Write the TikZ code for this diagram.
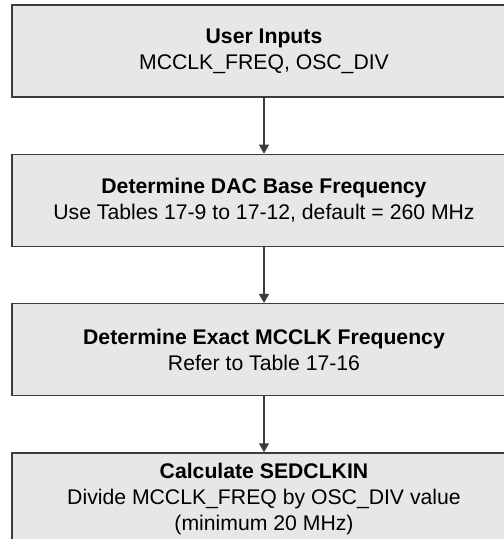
\documentclass[tikz,border=0pt]{standalone}
\usepackage{fontspec}
\setmainfont{Liberation Sans}
\usepackage{xcolor}
\usetikzlibrary{positioning,arrows.meta}
\definecolor{boxgray}{HTML}{E6E7E8}
\definecolor{edgegray}{HTML}{3C3C3C}

\begin{document}
\begin{tikzpicture}[x=1pt,y=1pt,
    stepbox/.style={draw=edgegray, line width=1.3pt, fill=boxgray,
      minimum width=504pt, minimum height=92pt, inner sep=0pt,
      align=center, font=\fontsize{21.2}{26}\selectfont},
    flow/.style={draw=edgegray, line width=1.2pt,
      -{Triangle[length=9pt,width=10pt]}},
    node distance=56pt]
        \useasboundingbox (0,0) rectangle (504,-539);
        \clip (0,0) rectangle (504,-539);
        \node[stepbox] (inputs) at (264,-51) {\textbf{User Inputs}\\MCCLK\_FREQ, OSC\_DIV};
        \node[stepbox, below=of inputs] (dacbase) {\textbf{Determine DAC Base Frequency}\\Use Tables 17-9 to 17-12, default = 260 MHz};
        \node[stepbox, below=of dacbase] (mcclk) {\textbf{Determine Exact MCCLK Frequency}\\Refer to Table 17-16};
        \node[stepbox, below=of mcclk] (sedclk) {\textbf{Calculate SEDCLKIN}\\Divide MCCLK\_FREQ by OSC\_DIV value\\(minimum 20 MHz)};
        % connectors
        \draw[flow] (inputs) -- (dacbase);
        \draw[flow] (dacbase) -- (mcclk);
        \draw[flow] (mcclk) -- (sedclk);
\end{tikzpicture}
\end{document}
